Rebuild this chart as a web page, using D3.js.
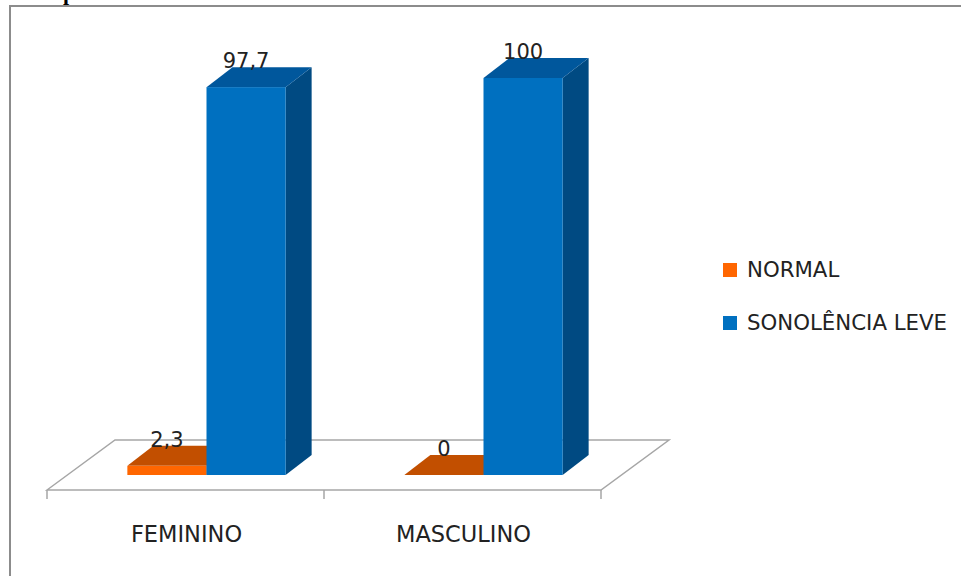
<!DOCTYPE html>
<html><head><meta charset="utf-8">
<script src="https://cdn.jsdelivr.net/npm/d3@7"></script>
<style>html,body{margin:0;padding:0;background:#fff;overflow:hidden}</style>
</head><body>
<svg id="c" width="961" height="576"></svg>
<script>
const categories = ["FEMININO", "MASCULINO"];
const seriesNames = ["NORMAL", "SONOLÊNCIA LEVE"];
const normalValues = [2.3, 0];
const sonolenciaValues = [97.7, 100];
const valueLabels = [["2,3", "0"], ["97,7", "100"]];

const svg = d3.select("#c");
const font = "'DejaVu Sans', Verdana, sans-serif";
const colors = [
  {front: "#FF6600", top: "#C24F00", side: "#A94400"},
  {front: "#0070C0", top: "#00579C", side: "#004A82"}
];

// chart frame
svg.append("rect").attr("x", 10).attr("y", 6).attr("width", 980).attr("height", 600)
  .attr("fill", "#fff").attr("stroke", "#8c8c8c").attr("stroke-width", 2);

// partially visible caption glyph above the frame
svg.append("text").attr("x", 63).attr("y", 0).text("p")
  .attr("font-family", "'Liberation Serif', serif").attr("font-weight", "bold")
  .attr("font-size", 22).attr("fill", "#000");

const floorY = 490, floorX0 = 47, floorX1 = 601;
const floorDX = 68, floorDY = -50;
const barOffDX = 21, barOffDY = -15;
const depthDX = 26, depthDY = -20;

const x0 = d3.scaleBand().domain(categories).range([floorX0, floorX1]);
const x1 = d3.scaleBand().domain(seriesNames).range([0, x0.bandwidth()]).paddingInner(0).paddingOuter(0.75);
const y = d3.scaleLinear().domain([0, 100]).range([floorY + barOffDY, 78]);

// floor
const fl = [[floorX0, floorY], [floorX0 + floorDX, floorY + floorDY], [floorX1 + floorDX, floorY + floorDY], [floorX1, floorY]];
svg.append("path").attr("d", "M" + fl.map(p => p.join(",")).join("L") + "Z")
  .attr("fill", "#fff").attr("stroke", "#a6a6a6").attr("stroke-width", 1.5);
// ticks
const tickXs = [floorX0].concat(categories.map(c => x0(c) + x0.bandwidth()));
svg.selectAll(".tick").data(tickXs).join("line")
  .attr("x1", d => d).attr("x2", d => d).attr("y1", floorY).attr("y2", floorY + 9)
  .attr("stroke", "#a6a6a6").attr("stroke-width", 1.5);

const series = [normalValues, sonolenciaValues];
const bars = [];
categories.forEach((c, ci) => {
  series.forEach((vals, si) => {
    bars.push({c, ci, si, v: vals[ci], label: valueLabels[si][ci]});
  });
});

const poly = pts => "M" + pts.map(p => p.join(",")).join("L") + "Z";

bars.forEach(b => {
  const xl = x0(b.c) + x1(seriesNames[b.si]) + barOffDX;
  const xr = xl + x1.bandwidth();
  const yb = y(0), yt = y(b.v);
  const col = colors[b.si];
  const g = svg.append("g");
  if (yb - yt > 0.5) {
    g.append("path").attr("d", poly([[xr, yb], [xr + depthDX, yb + depthDY], [xr + depthDX, yt + depthDY], [xr, yt]]))
      .attr("fill", col.side);
  }
  g.append("path").attr("d", poly([[xl, yt], [xl + depthDX, yt + depthDY], [xr + depthDX, yt + depthDY], [xr, yt]]))
    .attr("fill", col.top);
  if (yb - yt > 0.5) {
    g.append("rect").attr("x", xl).attr("y", yt).attr("width", xr - xl).attr("height", yb - yt)
      .attr("fill", col.front);
  }
  b.lx = (xl + xr) / 2;
  b.ly = yt + depthDY + 1;
});

svg.selectAll(".vlab").data(bars).join("text")
  .attr("x", d => d.lx).attr("y", d => d.ly).attr("text-anchor", "middle")
  .attr("font-family", font).attr("font-size", 21).attr("fill", "#222")
  .text(d => d.label);

// category labels
svg.selectAll(".clab").data(categories).join("text")
  .attr("x", d => x0(d) + x0.bandwidth() / 2 + 1).attr("y", 542).attr("text-anchor", "middle")
  .attr("font-family", font).attr("font-size", 22.5).attr("fill", "#222")
  .text(d => d);

// legend
const lg = svg.append("g");
seriesNames.forEach((s, i) => {
  const yy = 263 + i * 53;
  lg.append("rect").attr("x", 723).attr("y", yy).attr("width", 14).attr("height", 14).attr("fill", colors[i].front);
  lg.append("text").attr("x", 747).attr("y", yy + 14).attr("font-family", font).attr("font-size", 21.3)
    .attr("fill", "#222").text(s);
});
</script>
</body></html>
